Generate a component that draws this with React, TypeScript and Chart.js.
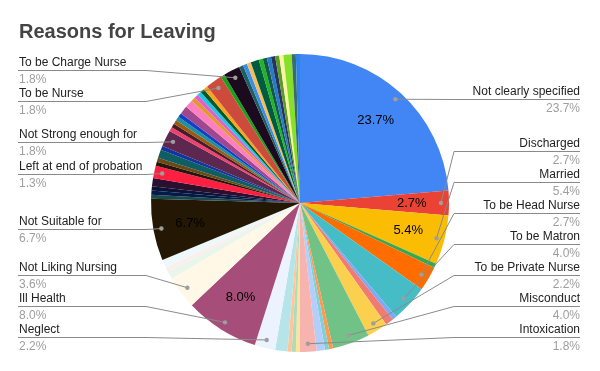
import React, { useEffect, useRef } from "react";
import { Chart, registerables } from "chart.js";

Chart.register(...registerables);

const chartTitle = "Reasons for Leaving";

// Slices in clockwise order starting at 12 o'clock ("" = slice without an outside label)
const categories: string[] = [
  "Not clearly specified", "Discharged", "Married", "", "To be Head Nurse", "To be Matron",
  "", "", "To be Private Nurse", "Misconduct", "", "", "", "Intoxication", "", "", "", "",
  "Neglect", "Ill Health", "Not Liking Nursing", "", "", "", "Not Suitable for",
  "", "", "", "", "Left at end of probation", "", "", "", "", "Not Strong enough for",
  "", "", "", "", "", "", "", "", "", "", "", "", "To be Nurse", "", "To be Charge Nurse",
  "", "", "", "", "", "", "", "", "", "", "", "", "",
];

const counts: number[] = [
  53, 6, 12, 1, 6, 9,
  1, 2, 5, 9, 1, 1, 2, 4, 1, 1, 1, 3,
  5, 18, 8, 2, 1, 2, 15,
  1, 1, 1, 2, 3, 1, 1, 2, 1, 4,
  1, 1, 1, 1, 1, 2, 2, 1, 1, 1, 1, 1, 4, 1, 4,
  1, 1, 1, 2, 1, 1, 1, 1, 1, 1, 2, 1, 1,
];

const sliceColors: string[] = [
  "#4285F4", "#EA4335", "#FBBC04", "#34A853", "#FF6D01", "#46BDC6",
  "#7BAAF7", "#F07B72", "#FCD04F", "#71C287", "#FF994D", "#7ED1D7", "#B3CEFB", "#F7B4AE",
  "#FDE49B", "#AEDCBA", "#FFC599", "#B5E5E8",
  "#ECF3FE", "#A64D79", "#FFF8E6", "#EAF6EC", "#FDEDEC", "#ECF8F9", "#241804",
  "#1b4a4a", "#041a4a", "#0b1438", "#2b0f2e", "#FF1F40", "#2a1410", "#6b4a12", "#0f5e63", "#1035a0", "#5e2750",
  "#f0406e", "#4a1a28", "#9a5a10", "#2090a0", "#1040c8", "#a0488f", "#ff7fbf", "#e09a28", "#e060c8", "#22c4e0",
  "#005a28", "#ffa21f", "#cc4b3c", "#1aa01a", "#1c0a1e",
  "#1e6060", "#3a8ee8", "#f6bd5c", "#005c40", "#22b422", "#0f5a4a", "#2a78c8", "#24345a", "#5e9a2a",
  "#fbf2a4", "#86e028", "#3a6a72", "#2a86e6",
];

// Slices that carry their percentage inside the pie
const insidePercentFor: string[] = ["Not clearly specified", "Discharged", "Married", "Ill Health", "Not Suitable for"];

const FONT = '"Liberation Sans", Arial, sans-serif';

function layoutLabels(desired: number[], gap: number, minY: number, maxY: number): number[] {
  type Cl = { idx: number[]; start: number };
  let clusters: Cl[] = desired.map((d, i) => ({ idx: [i], start: d }));
  const place = (c: Cl) => {
    let s = 0;
    c.idx.forEach((id, k) => (s += desired[id] - k * gap));
    let start = s / c.idx.length;
    const n = c.idx.length;
    if (start + (n - 1) * gap > maxY) start = maxY - (n - 1) * gap;
    if (start < minY) start = minY;
    c.start = start;
  };
  clusters.forEach(place);
  let changed = true;
  while (changed) {
    changed = false;
    for (let i = 1; i < clusters.length; i++) {
      const a = clusters[i - 1];
      const b = clusters[i];
      if (a.start + a.idx.length * gap > b.start + 0.01) {
        const m: Cl = { idx: [...a.idx, ...b.idx], start: 0 };
        place(m);
        clusters.splice(i - 1, 2, m);
        changed = true;
        break;
      }
    }
  }
  const out = new Array(desired.length).fill(0);
  clusters.forEach((c) => c.idx.forEach((id, k) => (out[id] = c.start + k * gap)));
  return out;
}

const labelPlugin = {
  id: "sheetLabels",
  afterDatasetsDraw(chart: any) {
    const ctx: CanvasRenderingContext2D = chart.ctx;
    const meta = chart.getDatasetMeta(0);
    const total = counts.reduce((a, b) => a + b, 0);
    const pct = (v: number) => ((v / total) * 100).toFixed(1) + "%";

    // title
    ctx.save();
    ctx.fillStyle = "#444444";
    ctx.font = `bold 20px ${FONT}`;
    ctx.textAlign = "left";
    ctx.textBaseline = "alphabetic";
    ctx.fillText(chartTitle, 19, 38);
    ctx.restore();

    const left: any[] = [];
    const right: any[] = [];
    let cx = 0, cy = 0, R = 0;
    meta.data.forEach((el: any, i: number) => {
      const mid = (el.startAngle + el.endAngle) / 2;
      cx = el.x; cy = el.y; R = el.outerRadius;
      if (insidePercentFor.includes(categories[i])) {
        ctx.save();
        ctx.fillStyle = "#000000";
        ctx.font = `13px ${FONT}`;
        ctx.textAlign = "center";
        ctx.textBaseline = "middle";
        ctx.fillText(pct(counts[i]), el.x + Math.cos(mid) * R * 0.75, el.y + Math.sin(mid) * R * 0.75);
        ctx.restore();
      }
      if (categories[i]) {
        const dx = el.x + Math.cos(mid) * R * 0.946;
        const dy = el.y + Math.sin(mid) * R * 0.946;
        const item = { i, dx, dy };
        (Math.cos(mid) >= 0 ? right : left).push(item);
      }
    });

    const drawSide = (items: any[], isRight: boolean) => {
      items.sort((a, b) => a.dy - b.dy);
      const ys = layoutLabels(items.map((it) => it.dy), 31, 70, 337);
      const elbow = isRight ? cx + R + 5 : cx - R - 5;
      const edge = isRight ? 580 : 18;
      items.forEach((it, k) => {
        const ly = Math.round(ys[k]);
        ctx.save();
        ctx.strokeStyle = "#8a8a8a";
        ctx.lineWidth = 1;
        ctx.beginPath();
        ctx.moveTo(edge, ly + 0.5);
        ctx.lineTo(elbow, ly + 0.5);
        ctx.lineTo(it.dx, it.dy);
        ctx.stroke();
        ctx.fillStyle = "#9e9e9e";
        ctx.beginPath();
        ctx.arc(it.dx, it.dy, 2.2, 0, Math.PI * 2);
        ctx.fill();
        ctx.textAlign = isRight ? "right" : "left";
        ctx.textBaseline = "alphabetic";
        ctx.font = `12px ${FONT}`;
        ctx.fillStyle = "#222222";
        const tx = isRight ? 580 : 19;
        ctx.fillText(categories[it.i], tx, ly - 4);
        ctx.fillStyle = "#9e9e9e";
        ctx.fillText(pct(counts[it.i]), tx, ly + 13);
        ctx.restore();
      });
    };
    drawSide(left, false);
    drawSide(right, true);
  },
};

export default function App() {
  const ref = useRef<HTMLCanvasElement | null>(null);
  useEffect(() => {
    document.body.style.margin = "0";
    if (!ref.current) return;
    const chart = new Chart(ref.current, {
      type: "pie",
      data: {
        labels: categories,
        datasets: [
          {
            data: counts,
            backgroundColor: sliceColors,
            borderWidth: 0,
            hoverOffset: 0,
          },
        ],
      },
      options: {
        responsive: false,
        animation: false,
        devicePixelRatio: 1,
        layout: { padding: { left: 151, right: 151, top: 54, bottom: 19 } },
        plugins: {
          legend: { display: false },
          tooltip: { enabled: false },
          title: { display: false },
        },
      },
      plugins: [labelPlugin],
    });
    return () => chart.destroy();
  }, []);
  return (
    <div style={{ position: "absolute", left: 0, top: 0, width: 600, height: 371, background: "#ffffff" }}>
      <canvas ref={ref} width={600} height={371} />
    </div>
  );
}
